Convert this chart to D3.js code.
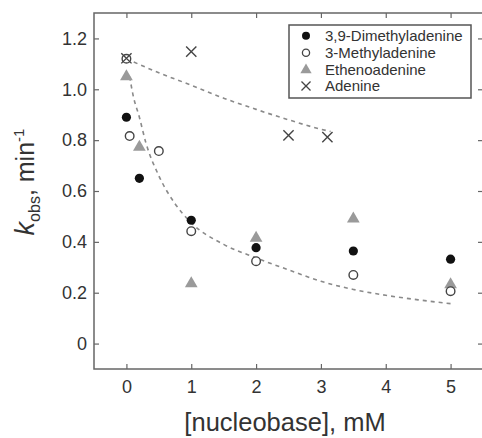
<!DOCTYPE html>
<meta charset="utf-8">
<style>
  body { margin: 0; background: #fff; }
  text { font-family: Arial, "Liberation Sans", sans-serif; fill: #333; }
</style>
<svg width="482" height="438"></svg>
<script src="https://cdn.jsdelivr.net/npm/d3@7"></script>
<script>

// series: [nucleobase mM, kobs min-1]
var dimethyl = [[0, 0.89], [0.2, 0.65], [1, 0.485], [2, 0.377], [3.5, 0.364], [5, 0.332]];
var methyl = [[0, 1.12], [0.05, 0.816], [0.5, 0.757], [1, 0.442], [2, 0.324], [3.5, 0.27], [5, 0.206]];
var etheno = [[0, 1.05], [0.2, 0.773], [1, 0.236], [2, 0.415], [3.5, 0.491], [5, 0.232]];
var adenine = [[0, 1.122], [1, 1.148], [2.5, 0.819], [3.1, 0.812]];

// dashed fit lines
var fitLow = [[0.05, 1.05], [0.1, 0.98], [0.2, 0.89], [0.3, 0.79], [0.5, 0.66], [0.75, 0.55],
              [1, 0.475], [1.5, 0.39], [2, 0.337], [2.5, 0.29], [3, 0.245], [3.5, 0.213],
              [4, 0.19], [4.5, 0.172], [5, 0.157]];
var fitHigh = [[0, 1.12], [0.5, 1.065], [1, 1.016], [1.5, 0.965], [2, 0.921], [2.5, 0.88], [3, 0.843], [3.15, 0.834]];

var xTicks = [0, 1, 2, 3, 4, 5];
var yTicks = [0, 0.2, 0.4, 0.6, 0.8, 1.0, 1.2];
var yTickLabels = ["0", "0.2", "0.4", "0.6", "0.8", "1.0", "1.2"];
var legendNames = ["3,9-Dimethyladenine", "3-Methyladenine", "Ethenoadenine", "Adenine"];

var svg = d3.select("svg");

var x = d3.scaleLinear().domain([-0.5, 5.5]).range([94, 483]);
var y = d3.scaleLinear().domain([-0.1, 1.3]).range([369, 13]);

// frame
svg.append("rect")
    .attr("x", 94).attr("y", 13)
    .attr("width", 389).attr("height", 356)
    .attr("fill", "none")
    .attr("stroke", "#666")
    .attr("stroke-width", 1.5);

function styleAxis(g) {
  g.select(".domain").remove();
  g.selectAll(".tick line").attr("stroke", "#666").attr("stroke-width", 1.2);
  g.selectAll(".tick text").attr("font-size", "18px").attr("fill", "#333");
}

svg.append("g")
    .attr("transform", "translate(0,369)")
    .call(d3.axisBottom(x).tickValues(xTicks).tickSize(-5).tickPadding(11).tickFormat(d3.format("d")))
    .call(styleAxis);

svg.append("g")
    .attr("transform", "translate(0,13)")
    .call(d3.axisTop(x).tickValues(xTicks).tickSize(-5).tickFormat(""))
    .call(styleAxis);

svg.append("g")
    .attr("transform", "translate(94,0)")
    .call(d3.axisLeft(y).tickValues(yTicks).tickSize(-5).tickPadding(7)
      .tickFormat(function(d, i) { return yTickLabels[i]; }))
    .call(styleAxis);

svg.append("g")
    .attr("transform", "translate(483,0)")
    .call(d3.axisRight(y).tickValues(yTicks).tickSize(-5).tickFormat(""))
    .call(styleAxis);

// fit lines
var line = d3.line()
    .x(function(d) { return x(d[0]); })
    .y(function(d) { return y(d[1]); })
    .curve(d3.curveMonotoneX);

[fitLow, fitHigh].forEach(function(f) {
  svg.append("path")
      .datum(f)
      .attr("d", line)
      .attr("fill", "none")
      .attr("stroke", "#8a8a8a")
      .attr("stroke-width", 1.6)
      .attr("stroke-dasharray", "4,4");
});

// markers
var tri = d3.symbol(d3.symbolTriangle, 70);
var cross = d3.symbol(d3.symbolTimes, 70);

svg.append("g").selectAll("path")
    .data(etheno).enter().append("path")
    .attr("d", tri)
    .attr("transform", function(d) { return "translate(" + x(d[0]) + "," + y(d[1]) + ")"; })
    .attr("fill", "#9a9a9a");

svg.append("g").selectAll("circle")
    .data(methyl).enter().append("circle")
    .attr("cx", function(d) { return x(d[0]); })
    .attr("cy", function(d) { return y(d[1]); })
    .attr("r", 4.3)
    .attr("fill", "#fff")
    .attr("stroke", "#444")
    .attr("stroke-width", 1.4);

svg.append("g").selectAll("circle")
    .data(dimethyl).enter().append("circle")
    .attr("cx", function(d) { return x(d[0]); })
    .attr("cy", function(d) { return y(d[1]); })
    .attr("r", 4.6)
    .attr("fill", "#111");

svg.append("g").selectAll("path")
    .data(adenine).enter().append("path")
    .attr("d", cross)
    .attr("transform", function(d) { return "translate(" + x(d[0]) + "," + y(d[1]) + ")"; })
    .attr("fill", "none")
    .attr("stroke", "#444")
    .attr("stroke-width", 1.4);

// legend
var lg = svg.append("g");
lg.append("rect")
    .attr("x", 289).attr("y", 25)
    .attr("width", 182).attr("height", 73)
    .attr("fill", "#fff")
    .attr("stroke", "#555")
    .attr("stroke-width", 1.5);

var rowY = [35.7, 52.7, 70, 86];
lg.append("circle").attr("cx", 306).attr("cy", rowY[0]).attr("r", 4).attr("fill", "#111");
lg.append("circle").attr("cx", 306).attr("cy", rowY[1]).attr("r", 3.6)
    .attr("fill", "#fff").attr("stroke", "#444").attr("stroke-width", 1.3);
lg.append("path").attr("d", d3.symbol(d3.symbolTriangle, 55))
    .attr("transform", "translate(306," + rowY[2] + ")").attr("fill", "#9a9a9a");
lg.append("path").attr("d", d3.symbol(d3.symbolTimes, 55))
    .attr("transform", "translate(306," + rowY[3] + ")")
    .attr("fill", "none").attr("stroke", "#444").attr("stroke-width", 1.3);

lg.selectAll("text.name")
    .data(legendNames).enter().append("text")
    .attr("class", "name")
    .attr("x", 325)
    .attr("y", function(d, i) { return rowY[i]; })
    .attr("dy", "0.35em")
    .attr("font-size", "15px")
    .text(function(d) { return d; });

// axis titles
svg.append("text")
    .attr("x", 285).attr("y", 431)
    .attr("text-anchor", "middle")
    .attr("font-size", "25.5px")
    .text("[nucleobase], mM");

var yt = svg.append("text")
    .attr("transform", "translate(34,182) rotate(-90)")
    .attr("text-anchor", "middle")
    .attr("font-size", "25px");
yt.append("tspan").attr("font-style", "italic").attr("font-size", "27px").text("k");
yt.append("tspan").attr("font-size", "16px").attr("dy", 6).text("obs");
yt.append("tspan").attr("dy", -6).text(", min");
yt.append("tspan").attr("font-size", "15px").attr("dy", -10).text("-1");

</script>
